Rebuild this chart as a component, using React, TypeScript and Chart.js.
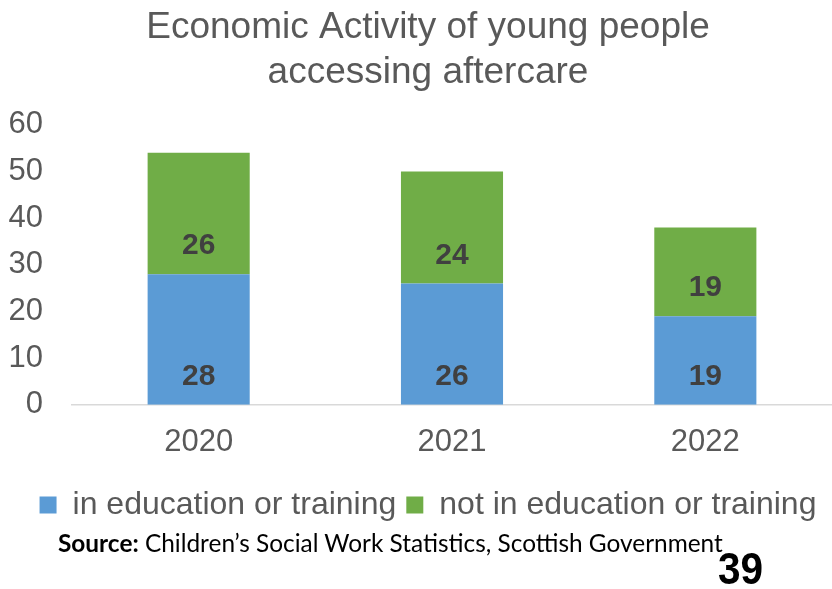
import React, { useEffect, useRef } from "react";
import { Chart, registerables } from "chart.js";

Chart.register(...registerables);

const titleLines = ["Economic Activity of young people", "accessing aftercare"];
const categories = ["2020", "2021", "2022"];
const seriesNames = ["in education or training", "not in education or training"];
const inEducation = [28, 26, 19];
const notInEducation = [26, 24, 19];
const yMin = 0;
const yMax = 60;
const yStep = 10;
const sourceLabel = "Source:";
const sourceText = " Children\u2019s Social Work Statistics, Scottish Government";
const pageNumber = "39";

const FONT = "'Liberation Sans', Arial, Helvetica, sans-serif";
const SOURCE_FONT = "Lato, 'Noto Sans', sans-serif";

const insideBaseLabels = {
  id: "insideBaseLabels",
  afterDatasetsDraw(chart: any) {
    const ctx = chart.ctx;
    ctx.save();
    ctx.font = `bold 30px ${FONT}`;
    ctx.fillStyle = "#404040";
    ctx.textAlign = "center";
    ctx.textBaseline = "middle";
    chart.data.datasets.forEach((ds: any, i: number) => {
      const meta = chart.getDatasetMeta(i);
      meta.data.forEach((el: any, j: number) => {
        const { x, base } = el.getProps(["x", "base"], true);
        ctx.fillText(String(ds.data[j]), x, base - 28);
      });
    });
    ctx.restore();
  },
};

// let the y tick labels use the space left of the layout padding
const widenYLabelArea = {
  id: "widenYLabelArea",
  afterLayout(chart: any) {
    const y = chart.scales.y;
    if (y) {
      y.width += y.left;
      y.left = 0;
    }
  },
};

export default function App() {
  const ref = useRef<HTMLCanvasElement | null>(null);

  useEffect(() => {
    if (!ref.current) return;
    const chart = new Chart(ref.current, {
      type: "bar",
      data: {
        labels: categories,
        datasets: [
          {
            label: seriesNames[0],
            data: inEducation,
            backgroundColor: "#5B9BD5",
            borderWidth: 0,
          },
          {
            label: seriesNames[1],
            data: notInEducation,
            backgroundColor: "#70AD47",
            borderWidth: 0,
          },
        ],
      },
      options: {
        responsive: false,
        animation: false,
        layout: { padding: { left: 24, right: 0, top: 0, bottom: 58 } },
        datasets: {
          bar: { barPercentage: 1, categoryPercentage: 0.403 },
        },
        plugins: {
          title: {
            display: true,
            text: titleLines,
            color: "#595959",
            font: { family: FONT, size: 37, weight: "normal", lineHeight: 1.2 },
            padding: { top: 6, bottom: 30 },
          },
          legend: {
            position: "bottom",
            labels: {
              boxWidth: 17,
              boxHeight: 17,
              color: "#595959",
              font: { family: FONT, size: 32 },
              padding: 10,
            },
          },
          tooltip: { enabled: false },
        },
        scales: {
          x: {
            stacked: true,
            grid: { display: false, drawTicks: false },
            border: { display: true, color: "#D9D9D9", width: 1.5 },
            ticks: {
              color: "#595959",
              font: { family: FONT, size: 31 },
              padding: 19,
            },
            afterFit(scale: any) {
              scale.height = scale.height - 1;
            },
          },
          y: {
            stacked: true,
            min: yMin,
            max: yMax,
            grid: { display: false, drawTicks: false },
            border: { display: false },
            ticks: {
              stepSize: yStep,
              color: "#595959",
              font: { family: FONT, size: 31 },
              padding: 29,
            },
            afterFit(scale: any) {
              scale.width = 48;
            },
          },
        },
      },
      plugins: [insideBaseLabels, widenYLabelArea],
    });
    return () => chart.destroy();
  }, []);

  return (
    <div
      style={{
        position: "absolute",
        left: 0,
        top: 0,
        width: 832,
        height: 589,
        background: "#ffffff",
        overflow: "hidden",
      }}
    >
      <canvas ref={ref} width={832} height={589} style={{ display: "block" }} />
      <div
        style={{
          position: "absolute",
          left: 58,
          top: 530,
          fontFamily: SOURCE_FONT,
          fontSize: 24.4,
          lineHeight: "26px",
          color: "#000000",
          whiteSpace: "nowrap",
        }}
      >
        <b>{sourceLabel}</b>
        {sourceText}
      </div>
      <div
        style={{
          position: "absolute",
          left: 718,
          top: 544,
          fontFamily: FONT,
          fontWeight: "bold",
          fontSize: 45,
          lineHeight: "50px",
          color: "#000000",
          transform: "scaleX(0.9)",
          transformOrigin: "left top",
        }}
      >
        {pageNumber}
      </div>
    </div>
  );
}
